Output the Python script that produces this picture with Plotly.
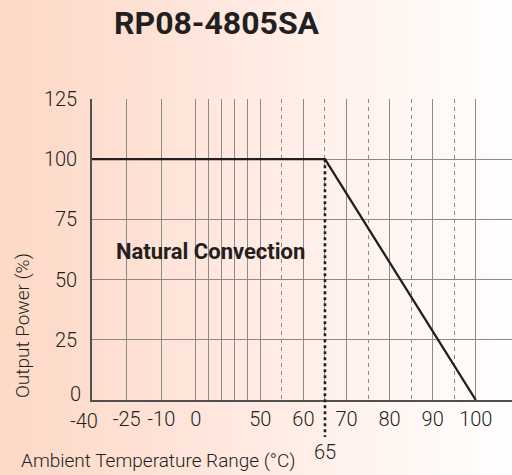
import numpy as np
import plotly.graph_objects as go

# ---------------- data ----------------
temp_c = [-40, 65, 100]
power_pct = [100, 100, 0]

x_tick_values = [-40, -25, -10, 0, 10, 20, 30, 40, 50, 60, 70, 80, 90, 100]
x_tick_labels = ["", "-25", "-10", "0", "", "", "", "", "50", "60", "70", "80", "90", "100"]
x_first_label = "-40"
x_minor_values = [55, 65, 75, 85, 95]
y_tick_values = [0, 25, 50, 75, 100, 125]
y_tick_labels = ["", "25", "50", "75", "100", "125"]
y_first_label = "0"
derate_start = 65

title_text = "RP08-4805SA"
x_title = "Ambient Temperature Range (°C)"
y_title = "Output Power (%)"
note_text = "Natural Convection"

# ---------------- non-linear x scale (piecewise) ----------------
SCALE_C = [-40, -25, -10, 0, 50, 100, 110]
SCALE_U = [0, 34.7, 69.3, 103.7, 168.3, 383.7, 426.8]


def warp(t):
    return np.interp(np.asarray(t, dtype=float), SCALE_C, SCALE_U)


X_MAX_C = 108.4

W, H = 512, 475
ML, MR, MT, MB = 92, 0, 99, 75
PW, PH = W - ML - MR, H - MT - MB

FONT = "Roboto, Liberation Sans, sans-serif"
TXT = "#231f20"

fig = go.Figure()

fig.add_trace(go.Scatter(
    x=warp(temp_c), y=power_pct, mode="lines",
    line=dict(color=TXT, width=2.3), hoverinfo="skip", showlegend=False,
))

# ---------------- background gradient ----------------
stops_px = [0, 130, 260, 390, 490, 512]
stops_rgb = [(253, 216, 197), (254, 224, 211), (255, 235, 227), (255, 245, 241), (255, 253, 252), (255, 255, 255)]
shapes = []
N = 128
for i in range(N):
    px0 = W * i / N
    px1 = W * (i + 1) / N
    mid = (px0 + px1) / 2
    r = np.interp(mid, stops_px, [c[0] for c in stops_rgb])
    g = np.interp(mid, stops_px, [c[1] for c in stops_rgb])
    b = np.interp(mid, stops_px, [c[2] for c in stops_rgb])
    shapes.append(dict(
        type="rect", xref="paper", yref="paper", layer="below",
        x0=(px0 - ML) / PW, x1=(px1 - ML + 0.6) / PW,
        y0=-MB / PH, y1=1 + MT / PH,
        line=dict(width=0), fillcolor=f"rgb({r:.0f},{g:.0f},{b:.0f})",
    ))

# dotted marker line at derating start (from 100% down below the axis)
shapes.append(dict(
    type="line", xref="x", yref="paper", layer="above",
    x0=float(warp(derate_start)), x1=float(warp(derate_start)),
    y0=100 / 125, y1=-37 / PH,
    line=dict(color=TXT, width=2.6, dash="dot"),
))

light = dict(family=FONT, color=TXT, weight=300)

annotations = [
    dict(text=f"<b>{title_text}</b>", xref="paper", yref="paper",
         x=(216.5 - ML) / PW, y=1 + (MT - 23) / PH, xanchor="center", yanchor="middle",
         showarrow=False, font=dict(family=FONT, size=32, color=TXT)),
    dict(text=f"<b>{note_text}</b>", xref="paper", yref="paper",
         x=(114 - ML) / PW, y=(400 - 251) / PH, xanchor="left", yanchor="middle",
         showarrow=False, font=dict(family=FONT, size=22, color=TXT)),
    dict(text=x_title, xref="paper", yref="paper",
         x=(19 - ML) / PW, y=(400 - 460) / PH, xanchor="left", yanchor="middle",
         showarrow=False, font=dict(light, size=19)),
    dict(text=y_title, xref="paper", yref="paper", textangle=-90,
         x=(22 - ML) / PW, y=(400 - 326) / PH, xanchor="center", yanchor="middle",
         showarrow=False, font=dict(light, size=19)),
    dict(text=str(derate_start), xref="x", yref="paper",
         x=float(warp(derate_start)), y=(400 - 452) / PH, xanchor="center", yanchor="middle",
         showarrow=False, font=dict(light, size=20)),
    dict(text=x_first_label, xref="x", yref="paper",
         x=float(warp(x_tick_values[0])), xshift=-8, y=(400 - 421) / PH,
         xanchor="center", yanchor="middle", showarrow=False, font=dict(light, size=20)),
    dict(text=y_first_label, xref="paper", yref="y",
         x=0, xshift=-9, y=y_tick_values[0], yshift=6,
         xanchor="right", yanchor="middle", showarrow=False, font=dict(light, size=20)),
]

fig.update_layout(
    width=W, height=H,
    margin=dict(l=ML, r=MR, t=MT, b=MB, pad=0),
    paper_bgcolor="white", plot_bgcolor="rgba(0,0,0,0)",
    shapes=shapes, annotations=annotations, showlegend=False,
    font=dict(family=FONT, color=TXT, size=20),
)

fig.update_xaxes(
    range=[0, float(warp(X_MAX_C))],
    tickmode="array", tickvals=warp(x_tick_values).tolist(), ticktext=x_tick_labels,
    showgrid=True, gridcolor="#8a8a8a", gridwidth=1,
    minor=dict(tickmode="array", tickvals=warp(x_minor_values).tolist(),
               showgrid=True, gridcolor="#8a8a8a", gridwidth=1, griddash="4px,4px"),
    showline=True, linecolor="#505050", linewidth=1.6,
    ticks="", ticklabelstandoff=0, zeroline=False,
    tickfont=dict(light, size=20),
    fixedrange=True,
)
fig.update_yaxes(
    range=[0, 125],
    tickmode="array", tickvals=y_tick_values, ticktext=y_tick_labels,
    showgrid=True, gridcolor="#8a8a8a", gridwidth=1,
    showline=True, linecolor="#505050", linewidth=1.6,
    ticks="", ticklabelstandoff=9, zeroline=False,
    tickfont=dict(light, size=20),
    fixedrange=True,
)

fig.write_html("out.html", config={"displayModeBar": False},
               post_script="document.body.style.margin='0';document.body.style.overflow='hidden';")
